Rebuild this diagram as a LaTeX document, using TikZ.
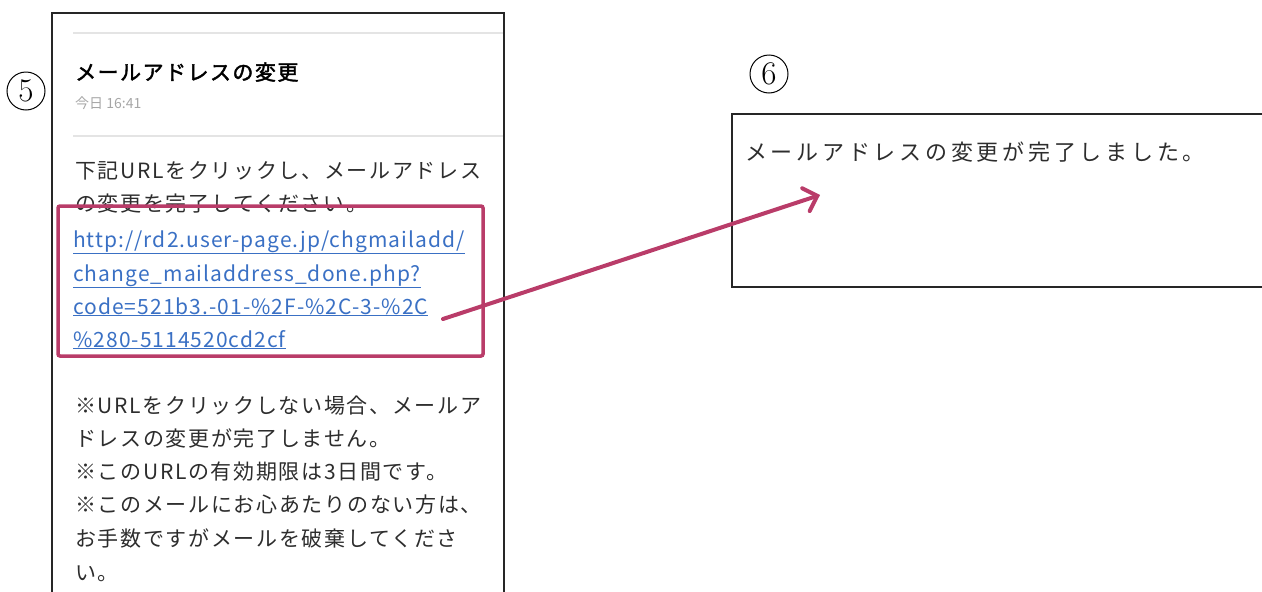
\documentclass[tikz,border=0pt]{standalone}
\usepackage{fontspec}
\usetikzlibrary{arrows.meta}
\newfontfamily\jp{Noto Sans CJK JP}[LetterSpace=8]
\newfontfamily\jpurl{Noto Sans CJK JP}[LetterSpace=5]
\newfontfamily\jpb{Noto Sans CJK JP}[FakeBold=2,LetterSpace=7]
\newfontfamily\jpwide{Noto Sans CJK JP}[LetterSpace=17]
\newfontfamily\jpplain{Noto Sans CJK JP}
\definecolor{hilite}{RGB}{185,60,105}
\definecolor{linkblue}{RGB}{58,112,196}
\definecolor{bodytxt}{RGB}{45,45,45}
\definecolor{sepgray}{RGB}{228,228,228}
\tikzset{
  bodyline/.style={anchor=base west, inner sep=0pt, text=bodytxt, font=\jp\fontsize{21}{24}\selectfont},
  urlline/.style={anchor=base west, inner sep=0pt, text=linkblue, font=\jpurl\fontsize{21}{24}\selectfont},
  frame/.style={draw=black!85, line width=1.6pt},
  sep/.style={draw=sepgray, line width=1.5pt},
  numlabel/.style={circle, draw=black, line width=1pt, minimum size=38pt, inner sep=0pt, font=\rmfamily\fontsize{33}{35}\selectfont},
}
\begin{document}
\begin{tikzpicture}[x=1pt,y=-1pt]
\useasboundingbox (0,0) rectangle (1262,592);
% left mail panel
\draw[frame] (52,592) -- (52,13) -- (504,13) -- (504,592);
\draw[sep] (73,33) -- (503,33);
\draw[sep] (73,136) -- (503,136);
\node[numlabel] (n5) at (26,91) {5};
\node[anchor=base west, inner sep=0pt, font=\jpb\fontsize{21}{24}\selectfont] (title) at (75,80) {メールアドレスの変更};
\node[anchor=base west, inner sep=0pt, text=black!35, font=\jpplain\fontsize{14}{18}\selectfont] (time) at (75,108) {今日 16:41};
\node[bodyline] (b1) at (75,178) {下記URLをクリックし、メールアドレス};
\node[bodyline] (b2) at (75,211) {の変更を完了してください。};
\node[urlline] (u1) at (73,247) {\underline{http://rd2.user-page.jp/chgmailadd/}};
\node[urlline] (u2) at (73,281) {\underline{change\_mailaddress\_done.php?}};
\node[urlline] (u3) at (73,314) {\underline{code=521b3.-01-\%2F-\%2C-3-\%2C}};
\node[urlline] (u4) at (73,347) {\underline{\%280-5114520cd2cf}};
\node[bodyline] (c1) at (75,413) {※URLをクリックしない場合、メールア};
\node[bodyline] (c2) at (75,446) {ドレスの変更が完了しません。};
\node[bodyline] (c3) at (75,479) {※このURLの有効期限は3日間です。};
\node[bodyline] (c4) at (75,512) {※このメールにお心あたりのない方は、};
\node[bodyline] (c5) at (75,546) {お手数ですがメールを破棄してくださ};
\node[bodyline] (c6) at (75,580) {い。};
% highlight box
\node[draw=hilite, line width=3.5pt, rounded corners=2pt, minimum width=425pt, minimum height=150pt, inner sep=0pt] (linkbox) at (270.5,281) {};
% right panel
\draw[frame] (1262,114) -- (732,114) -- (732,287) -- (1262,287);
\node[numlabel] (n6) at (769,74) {6};
\node[anchor=base west, inner sep=0pt, text=bodytxt, font=\jpwide\fontsize{22}{26}\selectfont] (done) at (745,160) {メールアドレスの変更が完了しました。};
% arrow
\coordinate (astart) at (443,319);
\coordinate (aend) at (820,195);
\draw[hilite, line width=4pt, line cap=round, -{Straight Barb[length=12pt,width=24pt,line cap=round]}] (astart) -- (aend);
\end{tikzpicture}
\end{document}
